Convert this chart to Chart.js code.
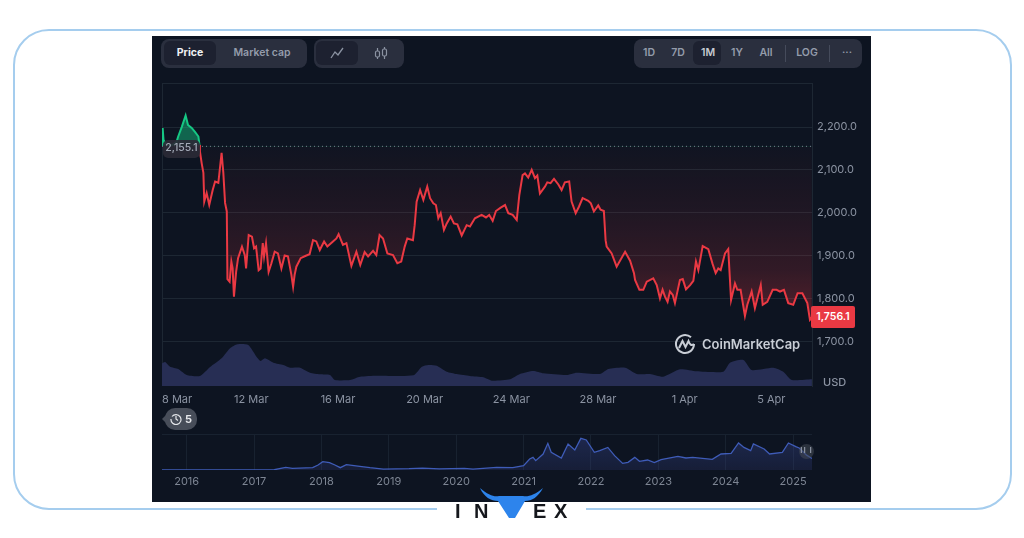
<!DOCTYPE html>
<html>
<head>
<meta charset="utf-8">
<title>Ethereum price chart</title>
<script src="https://cdn.jsdelivr.net/npm/chart.js@4"></script>
<style>
  html, body { margin: 0; padding: 0; background: #fff; }
  body { position: relative; width: 1024px; height: 538px; overflow: hidden; font-family: Inter, "Noto Sans", sans-serif; }
  .abs { position: absolute; }
  #frame { left: 13px; top: 29px; width: 995px; height: 477px; border: 2px solid #a5cdee; border-radius: 36px; }
  #panel { left: 152px; top: 36px; width: 719px; height: 466px; background: #0d1421; }
  #gap { left: 437px; top: 503px; width: 149px; height: 8px; background: #fff; }
  canvas { position: absolute; display: block; }
  .group { top: 39px; height: 29px; background: #2a2f3e; border-radius: 8px; }
  .active { top: 41px; height: 24px; background: #1d2130; border-radius: 6px; }
  .btn { top: 39px; height: 29px; line-height: 28px; font-size: 10.5px; font-weight: 600; color: #949cab; transform: translateX(-50%); white-space: nowrap; }
  .sep { top: 45px; width: 1px; height: 17px; background: #454b5b; }
  #usd { left: 823px; top: 375px; font-size: 11px; font-weight: 500; color: #8b93a2; }
  #lastTag { left: 811px; top: 306px; width: 44px; height: 22px; line-height: 22px; text-align: center; background: #ea3943; color: #fff; font-size: 10.5px; font-weight: 600; border-radius: 2px; }
  #openTag { left: 163px; top: 140px; width: 37px; height: 18px; line-height: 16px; text-align: center; background: rgba(42,42,54,.92); color: #a4abb8; font-size: 10.5px; font-weight: 500; border-radius: 5px; }
  #cmc { left: 702px; top: 336px; font-size: 13px; font-weight: 600; color: #c9ced6; white-space: nowrap; }
  #chip { left: 165px; top: 408px; width: 32px; height: 22px; background: #474d59; border-radius: 10px; }
  #chipArrow { left: 162px; top: 414px; width: 0; height: 0; border-top: 5px solid transparent; border-bottom: 5px solid transparent; border-right: 5px solid #474d59; }
  #chipNum { left: 185px; top: 412px; font-size: 11px; font-weight: 700; color: #e4e6ea; }
  #handle { left: 799px; top: 444px; width: 15px; height: 15px; background: rgba(70,74,86,.55); border-radius: 50%; text-align: center; line-height: 13px; font-size: 8px; font-weight: 700; color: #8b93a2; letter-spacing: 1px; }
  .logo { top: 501px; font-family: "Liberation Sans", sans-serif; font-size: 20px; font-weight: 700; color: #15171c; line-height: 20px; }
</style>
</head>
<body>
<div class="abs" id="frame"></div>
<div class="abs" id="panel"></div>
<div class="abs" id="gap"></div>

<div class="abs group" style="left:161px;width:146px"></div>
<div class="abs active" style="left:164px;width:52px"></div>
<div class="abs btn" style="left:190px;color:#eef0f3;font-weight:700">Price</div>
<div class="abs btn" style="left:262px">Market cap</div>
<div class="abs group" style="left:314px;width:90px"></div>
<div class="abs active" style="left:316px;width:42px"></div>
<svg class="abs" style="left:330px;top:46px" width="14" height="14" viewBox="0 0 14 14" fill="none" stroke="#8b93a2" stroke-width="1.3"><path d="M1 12 L5 6 L8 9 L13 2"/></svg>
<svg class="abs" style="left:374px;top:46px" width="14" height="14" viewBox="0 0 14 14" fill="none" stroke="#8b93a2" stroke-width="1.2"><rect x="1.5" y="5" width="4" height="6" rx="1.5"/><path d="M3.5 2v3M3.5 11v2"/><rect x="8.5" y="3" width="4" height="7" rx="1.5"/><path d="M10.5 1v2M10.5 10v3"/></svg>
<div class="abs group" style="left:634px;width:228px"></div>
<div class="abs active" style="left:693px;width:28px"></div>
<div class="abs btn" style="left:649px">1D</div>
<div class="abs btn" style="left:678px">7D</div>
<div class="abs btn" style="left:708px;color:#c6cbd3">1M</div>
<div class="abs btn" style="left:737px">1Y</div>
<div class="abs btn" style="left:766px">All</div>
<div class="abs sep" style="left:785px"></div>
<div class="abs btn" style="left:807px">LOG</div>
<div class="abs sep" style="left:829px"></div>
<div class="abs btn" style="left:847px">···</div>

<canvas id="priceChart" width="720" height="340" style="left:152px;top:70px"></canvas>
<canvas id="overviewChart" width="720" height="70" style="left:152px;top:425px"></canvas>

<div class="abs" id="usd">USD</div>
<div class="abs" id="lastTag">1,756.1</div>
<div class="abs" id="openTag">2,155.1</div>
<svg class="abs" style="left:674px;top:333px" width="22" height="22" viewBox="0 0 22 22" fill="none" stroke="#c9ced6" stroke-width="2"><path d="M20 11a9 9 0 1 1-3-6.7"/><path d="M5 15 L8.5 8 L11.5 14 L14.5 8 Q16.5 14 20 11"/></svg>
<div class="abs" id="cmc">CoinMarketCap</div>

<div class="abs" id="chipArrow"></div>
<div class="abs" id="chip"></div>
<svg class="abs" style="left:170px;top:413px" width="12" height="12" viewBox="0 0 12 12" fill="none" stroke="#e4e6ea" stroke-width="1.2"><path d="M2 3.5A5 5 0 1 1 1 6"/><path d="M6 3v3l2 1.5"/></svg>
<div class="abs" id="chipNum">5</div>
<div class="abs" id="handle">II I</div>

<svg class="abs" style="left:478px;top:486px" width="68" height="34" viewBox="0 0 68 34"><path fill="#2d84ec" d="M2 2 C10 9 16 11 21 10 L45 10 C50 11 57 9 65 2 C60 11 54 15 47 15 L37 32 L31 32 L20 15 C13 15 6 11 2 2 Z"/></svg>
<div class="abs logo" style="left:455px">I</div>
<div class="abs logo" style="left:474px">N</div>
<div class="abs logo" style="left:533px">E</div>
<div class="abs logo" style="left:554px">X</div>

<script>
// days since 8 Mar
const priceDays = [
  -0.12, -0.09, -0.05, 0.06, 0.34, 0.55, 0.62, 0.79, 0.97, 1.08, 1.25, 1.40, 1.56, 1.61, 1.63, 1.71, 1.79, 1.83, 1.94, 2.06, 2.22, 2.33, 2.48, 2.63, 2.71, 2.79, 2.87, 2.90,
  3.00, 3.08, 3.14, 3.20, 3.30, 3.39, 3.57, 3.70, 3.76, 3.88, 4.03, 4.13, 4.22, 4.34, 4.43, 4.53, 4.59, 4.68, 4.80, 4.93, 5.08, 5.23, 5.39, 5.54, 5.69, 5.85, 5.93, 6.00, 6.08, 6.28, 6.49, 6.69, 6.85, 7.00, 7.16, 7.36, 7.51, 7.77, 7.93, 8.03, 8.23, 8.39, 8.62, 8.85, 9.03, 9.23, 9.39, 9.62, 9.77, 9.92, 10.08, 10.28, 10.54, 10.74, 10.92, 11.08, 11.20, 11.46, 11.54,
  11.63, 11.79, 11.94, 12.12, 12.25, 12.40, 12.52, 12.63, 12.74, 12.89, 13.02, 13.20, 13.35, 13.51, 13.71, 13.94, 14.09, 14.32, 14.63, 14.83, 14.98, 15.14, 15.29, 15.51, 15.71, 15.86, 16.06, 16.25, 16.37, 16.52, 16.63, 16.78, 16.94, 17.09, 17.20, 17.32, 17.55, 17.66, 17.81, 17.97, 18.17, 18.32, 18.47, 18.67, 18.78, 18.97, 19.12, 19.29, 19.55, 19.67, 19.81, 20.01, 20.12, 20.27, 20.35,
  20.40, 20.63, 20.86, 21.25, 21.48, 21.66, 21.71, 21.91, 22.09, 22.25, 22.55, 22.71, 22.86, 22.98, 23.09, 23.21, 23.32, 23.45, 23.55, 23.78, 23.91, 24.06, 24.25, 24.40, 24.52, 24.63, 24.83, 25.09, 25.29, 25.43, 25.55, 25.66, 25.86, 26.01, 26.14, 26.32, 26.43, 26.58, 26.78, 26.89, 27.09, 27.24, 27.51, 27.60, 27.81, 28.06, 28.24, 28.40, 28.58, 28.78, 29.01, 29.21, 29.43, 29.66, 29.78, 29.87
];
const priceValues = [
  2158, 2198, 2170, 2160, 2158, 2165, 2177, 2200, 2227, 2205, 2198, 2189, 2178, 2158, 2143, 2116, 2093, 2026, 2046, 2018, 2053, 2073, 2070, 2140, 2093, 2023, 2003, 1845,
  1839, 1886, 1870, 1804, 1862, 1894, 1921, 1901, 1870, 1948, 1944, 1917, 1921, 1866, 1870, 1929, 1898, 1929, 1862, 1882, 1909, 1905, 1870, 1900, 1898, 1855, 1827, 1855, 1874, 1894, 1899, 1903, 1936, 1933, 1913, 1933, 1921, 1933, 1940, 1950, 1925, 1929, 1876, 1909, 1878, 1908, 1898, 1911, 1901, 1948, 1940, 1905, 1901, 1882, 1886, 1921, 1940, 1936, 1971,
  2026, 2053, 2030, 2061, 2034, 2022, 2018, 1987, 1999, 1960, 1975, 1991, 1975, 1973, 1947, 1971, 1968, 1987, 1995, 1989, 1995, 1981, 2004, 2012, 2018, 1999, 1995, 1983, 2042, 2088, 2092, 2082, 2100, 2081, 2087, 2045, 2061, 2071, 2069, 2079, 2066, 2053, 2071, 2073, 2026, 1999, 2014, 2034, 2028, 2022, 2003, 2017, 2007, 2004, 1936,
  1921, 1905, 1874, 1909, 1888, 1859, 1843, 1820, 1820, 1839, 1847, 1831, 1800, 1820, 1804, 1792, 1816, 1808, 1789, 1843, 1845, 1821, 1831, 1841, 1886, 1866, 1922, 1915, 1880, 1859, 1870, 1866, 1905, 1915, 1796, 1835, 1820, 1820, 1759, 1785, 1816, 1777, 1831, 1785, 1792, 1820, 1820, 1816, 1820, 1789, 1785, 1812, 1812, 1789, 1750, 1756.1
];

// volume, billions
const volumeDays = [-0.13, 0.02, 0.25, 0.63, 1.02, 1.63, 2.1, 2.63, 3.02, 3.36, 3.86, 4.25, 4.43, 4.63, 5.02, 5.48, 5.79, 6.25, 6.71, 7.17, 7.63, 7.86, 8.56, 9.02, 9.79, 11.48, 11.87, 12.17, 12.56, 13.02, 13.48, 14.09, 14.71, 15.1, 15.94, 16.4, 17.01, 17.48, 18.55, 19.01, 20.09, 20.48, 21.25, 21.79, 22.4, 23.01, 23.78, 24.55, 25.78, 26.09, 26.71, 27.09, 28.09, 28.55, 28.94, 29.87];
const volumeValues = [22.7, 24, 19.3, 17, 11, 10, 19, 27.7, 37.7, 41.7, 41, 29, 25, 27.7, 23.3, 21, 18.3, 18.3, 13.3, 11.7, 11, 6, 6, 9.3, 10.3, 10.7, 19.3, 21, 20.3, 14.3, 12, 10, 8.7, 5.3, 6.7, 12, 15, 12.7, 11, 13.3, 12, 17, 18.3, 12, 12, 9.3, 16.7, 14.7, 14.3, 23.3, 26, 16, 18.3, 14.3, 6, 6.7];

const openPrice = 2155.1;
const priceTicks = [1700, 1800, 1900, 2000, 2100, 2200, 2303];
const dateTickDays = [-0.12, 4, 8, 12, 16, 20, 24, 28, 29.875];
const dateTickLabels = ['8 Mar', '12 Mar', '16 Mar', '20 Mar', '24 Mar', '28 Mar', '1 Apr', '5 Apr', ''];

// all time overview
const overviewYears = [2015.634, 2016.5, 2017.0, 2017.3, 2017.47, 2017.57, 2017.87, 2017.95, 2018.02, 2018.12, 2018.2, 2018.28, 2018.37, 2018.57, 2018.72, 2018.92, 2019.3, 2019.5, 2019.75, 2020.12, 2020.25, 2020.6, 2020.84, 2021.0, 2021.09, 2021.14, 2021.18, 2021.29, 2021.36, 2021.41, 2021.56, 2021.66, 2021.76, 2021.85, 2021.93, 2022.05, 2022.13, 2022.25, 2022.35, 2022.47, 2022.55, 2022.65, 2022.72, 2022.84, 2022.94, 2023.04, 2023.29, 2023.41, 2023.51, 2023.8, 2023.93, 2024.08, 2024.19, 2024.27, 2024.37, 2024.41, 2024.57, 2024.65, 2024.84, 2024.93, 2025.04, 2025.09, 2025.2, 2025.28];
const overviewPrices = [1, 12, 10, 40, 400, 260, 360, 780, 1290, 1140, 780, 360, 830, 570, 360, 130, 200, 300, 170, 260, 130, 400, 360, 670, 1700, 1960, 1450, 2480, 4130, 2740, 1860, 4030, 3100, 4900, 4650, 2740, 3000, 3500, 2220, 1030, 1190, 1960, 1340, 1550, 1140, 1600, 2120, 1860, 1960, 1650, 2480, 2580, 4190, 3500, 3000, 4030, 3260, 2480, 2740, 4190, 3620, 3410, 2300, 1800];
const yearTicks = [2016, 2017, 2018, 2019, 2020, 2021, 2022, 2023, 2024, 2025];

const UP = '#16c784';
const DOWN = '#ea3943';
const GRID = '#1d2733';
const TICK = '#8b93a2';
const FONT = 'Inter, "Noto Sans", sans-serif';

const toPoints = (xs, ys) => xs.map((x, i) => ({ x: x, y: ys[i] }));

const priceChart = new Chart(document.getElementById('priceChart'), {
  type: 'line',
  data: {
    datasets: [
      {
        data: toPoints(priceDays, priceValues),
        yAxisID: 'y',
        order: 1,
        borderWidth: 2,
        borderColor: DOWN,
        pointRadius: 0,
        tension: 0,
        segment: {
          borderColor: (ctx) => (ctx.p0.parsed.y + ctx.p1.parsed.y) / 2 >= openPrice ? UP : DOWN
        },
        fill: { value: openPrice, above: 'rgba(22,199,132,0.45)', below: 'rgba(234,57,67,0.15)' }
      },
      {
        data: toPoints([-0.12, 29.875], [openPrice, openPrice]),
        yAxisID: 'y',
        order: 0,
        borderWidth: 1,
        borderColor: '#77808c',
        borderDash: [1, 3],
        pointRadius: 0,
        fill: false
      },
      {
        data: toPoints(volumeDays, volumeValues),
        yAxisID: 'vol',
        order: 2,
        borderWidth: 0,
        pointRadius: 0,
        tension: 0.2,
        backgroundColor: '#272e54',
        fill: 'origin'
      }
    ]
  },
  options: {
    responsive: false,
    animation: false,
    layout: { padding: { left: 10, top: 13 } },
    plugins: { legend: { display: false }, tooltip: { enabled: false } },
    scales: {
      x: {
        type: 'linear',
        min: -0.12,
        max: 29.875,
        afterBuildTicks: (axis) => { axis.ticks = dateTickDays.map(v => ({ value: v })); },
        afterFit: (axis) => { axis.height = 24; },
        grid: { drawTicks: false, color: (ctx) => ctx.index === 0 ? GRID : 'transparent' },
        border: { display: false },
        ticks: {
          autoSkip: false,
          maxRotation: 0,
          align: 'inner',
          padding: 7,
          color: TICK,
          font: { family: FONT, size: 11 },
          callback: (v, i) => dateTickLabels[i]
        }
      },
      y: {
        position: 'right',
        min: 1595.4,
        max: 2303,
        afterBuildTicks: (axis) => { axis.ticks = priceTicks.map(v => ({ value: v })); },
        afterFit: (axis) => { axis.width = 60; },
        grid: { drawTicks: false, color: GRID },
        border: { color: GRID },
        ticks: {
          padding: 5,
          color: TICK,
          font: { family: FONT, size: 11 },
          callback: (v) => v === 2303 ? '' : v.toLocaleString('en-US', { minimumFractionDigits: 1 })
        }
      },
      vol: { display: false, min: 0, max: 303 }
    }
  }
});

// the red shade gets stronger towards the bottom of the chart
const priceCtx = priceChart.ctx;
const shade = priceCtx.createLinearGradient(0, priceChart.scales.y.getPixelForValue(openPrice), 0, priceChart.scales.y.getPixelForValue(1790));
shade.addColorStop(0, 'rgba(234,57,67,0.02)');
shade.addColorStop(0.34, 'rgba(234,57,67,0.07)');
shade.addColorStop(0.79, 'rgba(234,57,67,0.17)');
shade.addColorStop(1, 'rgba(234,57,67,0.27)');
priceChart.data.datasets[0].fill.below = shade;
priceChart.update('none');

const overviewCtx = document.getElementById('overviewChart').getContext('2d');
const overviewFill = overviewCtx.createLinearGradient(0, 9, 0, 45);
overviewFill.addColorStop(0, 'rgba(60,76,160,0.38)');
overviewFill.addColorStop(1, 'rgba(46,56,110,0.3)');

new Chart(overviewCtx, {
  type: 'line',
  data: {
    datasets: [{
      data: toPoints(overviewYears, overviewPrices),
      borderWidth: 1.3,
      borderColor: '#3f5cb8',
      backgroundColor: overviewFill,
      pointRadius: 0,
      tension: 0,
      fill: 'origin'
    }]
  },
  options: {
    responsive: false,
    animation: false,
    layout: { padding: { left: 10, right: 60, top: 9 } },
    plugins: { legend: { display: false }, tooltip: { enabled: false } },
    scales: {
      x: {
        type: 'linear',
        min: 2015.634,
        max: 2025.28,
        afterBuildTicks: (axis) => { axis.ticks = yearTicks.map(v => ({ value: v })); },
        afterFit: (axis) => { axis.height = 25; },
        grid: { drawTicks: false, color: '#182230' },
        border: { display: false },
        ticks: {
          autoSkip: false,
          maxRotation: 0,
          padding: 5,
          color: '#7d8593',
          font: { family: FONT, size: 11 },
          callback: (v) => String(v)
        }
      },
      y: {
        min: 0,
        max: 5580,
        afterBuildTicks: (axis) => { axis.ticks = [{ value: 5580 }]; },
        afterFit: (axis) => { axis.width = 0; },
        grid: { drawTicks: false, color: '#182230' },
        border: { display: false },
        ticks: { display: false }
      }
    }
  }
});
</script>
</body>
</html>
